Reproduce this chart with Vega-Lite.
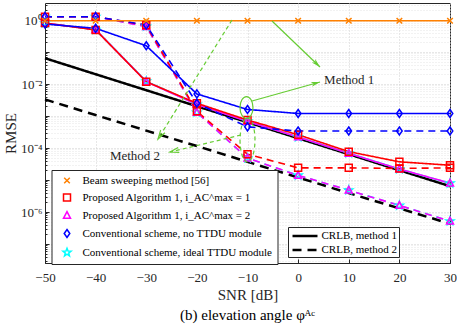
{
  "$schema": "https://vega.github.io/schema/vega-lite/v6.json",
  "width": 405,
  "height": 260,
  "autosize": "none",
  "padding": {"left": 45, "top": 3, "right": 7, "bottom": 63},
  "background": "white",
  "config": {
    "font": "Liberation Serif",
    "view": {"stroke": "#262626", "strokeWidth": 1}
  },
  "title": {
    "text": "(b) elevation angle φᴬᶜ",
    "orient": "bottom",
    "anchor": "middle",
    "fontSize": 15,
    "fontWeight": "normal",
    "font": "Liberation Serif",
    "color": "#000000",
    "offset": 6
  },
  "datasets": {
    "series": [
      {"snr": -50, "rmse": 0.8, "scheme": "S4", "method": "1"},
      {"snr": -40, "rmse": 0.5, "scheme": "S4", "method": "1"},
      {"snr": -30, "rmse": 0.0122, "scheme": "S4", "method": "1"},
      {"snr": -20, "rmse": 0.0023, "scheme": "S4", "method": "1"},
      {"snr": -10, "rmse": 0.00069, "scheme": "S4", "method": "1"},
      {"snr": 0, "rmse": 0.00022, "scheme": "S4", "method": "1"},
      {"snr": 10, "rmse": 0.000069, "scheme": "S4", "method": "1"},
      {"snr": 20, "rmse": 0.000022, "scheme": "S4", "method": "1"},
      {"snr": 30, "rmse": 0.0000079, "scheme": "S4", "method": "1"},
      {"snr": -50, "rmse": 1.27, "scheme": "S4", "method": "2"},
      {"snr": -40, "rmse": 1.27, "scheme": "S4", "method": "2"},
      {"snr": -30, "rmse": 0.63, "scheme": "S4", "method": "2"},
      {"snr": -20, "rmse": 0.0013, "scheme": "S4", "method": "2"},
      {"snr": -10, "rmse": 0.000048, "scheme": "S4", "method": "2"},
      {"snr": 0, "rmse": 0.000014, "scheme": "S4", "method": "2"},
      {"snr": 10, "rmse": 0.0000048, "scheme": "S4", "method": "2"},
      {"snr": 20, "rmse": 0.0000016, "scheme": "S4", "method": "2"},
      {"snr": 30, "rmse": 0.00000052, "scheme": "S4", "method": "2"},
      {"snr": -50, "rmse": 0.8, "scheme": "S2", "method": "1"},
      {"snr": -40, "rmse": 0.5, "scheme": "S2", "method": "1"},
      {"snr": -30, "rmse": 0.0118, "scheme": "S2", "method": "1"},
      {"snr": -20, "rmse": 0.0023, "scheme": "S2", "method": "1"},
      {"snr": -10, "rmse": 0.00068, "scheme": "S2", "method": "1"},
      {"snr": 0, "rmse": 0.00022, "scheme": "S2", "method": "1"},
      {"snr": 10, "rmse": 0.000068, "scheme": "S2", "method": "1"},
      {"snr": 20, "rmse": 0.000022, "scheme": "S2", "method": "1"},
      {"snr": 30, "rmse": 0.000008, "scheme": "S2", "method": "1"},
      {"snr": -50, "rmse": 1.27, "scheme": "S2", "method": "2"},
      {"snr": -40, "rmse": 1.27, "scheme": "S2", "method": "2"},
      {"snr": -30, "rmse": 0.62, "scheme": "S2", "method": "2"},
      {"snr": -20, "rmse": 0.0013, "scheme": "S2", "method": "2"},
      {"snr": -10, "rmse": 0.000048, "scheme": "S2", "method": "2"},
      {"snr": 0, "rmse": 0.000014, "scheme": "S2", "method": "2"},
      {"snr": 10, "rmse": 0.0000048, "scheme": "S2", "method": "2"},
      {"snr": 20, "rmse": 0.0000016, "scheme": "S2", "method": "2"},
      {"snr": 30, "rmse": 0.00000052, "scheme": "S2", "method": "2"},
      {"snr": -50, "rmse": 0.8, "scheme": "S1", "method": "1"},
      {"snr": -40, "rmse": 0.49, "scheme": "S1", "method": "1"},
      {"snr": -30, "rmse": 0.0118, "scheme": "S1", "method": "1"},
      {"snr": -20, "rmse": 0.0025, "scheme": "S1", "method": "1"},
      {"snr": -10, "rmse": 0.00075, "scheme": "S1", "method": "1"},
      {"snr": 0, "rmse": 0.00026, "scheme": "S1", "method": "1"},
      {"snr": 10, "rmse": 0.000077, "scheme": "S1", "method": "1"},
      {"snr": 20, "rmse": 0.000037, "scheme": "S1", "method": "1"},
      {"snr": 30, "rmse": 0.000029, "scheme": "S1", "method": "1"},
      {"snr": -50, "rmse": 1.27, "scheme": "S1", "method": "2"},
      {"snr": -40, "rmse": 1.27, "scheme": "S1", "method": "2"},
      {"snr": -30, "rmse": 0.68, "scheme": "S1", "method": "2"},
      {"snr": -20, "rmse": 0.0014, "scheme": "S1", "method": "2"},
      {"snr": -10, "rmse": 0.000064, "scheme": "S1", "method": "2"},
      {"snr": 0, "rmse": 0.000024, "scheme": "S1", "method": "2"},
      {"snr": 10, "rmse": 0.000024, "scheme": "S1", "method": "2"},
      {"snr": 20, "rmse": 0.000023, "scheme": "S1", "method": "2"},
      {"snr": 30, "rmse": 0.000024, "scheme": "S1", "method": "2"},
      {"snr": -50, "rmse": 0.75, "scheme": "S3", "method": "1"},
      {"snr": -40, "rmse": 0.55, "scheme": "S3", "method": "1"},
      {"snr": -30, "rmse": 0.157, "scheme": "S3", "method": "1"},
      {"snr": -20, "rmse": 0.0049, "scheme": "S3", "method": "1"},
      {"snr": -10, "rmse": 0.0016, "scheme": "S3", "method": "1"},
      {"snr": 0, "rmse": 0.0012, "scheme": "S3", "method": "1"},
      {"snr": 10, "rmse": 0.0012, "scheme": "S3", "method": "1"},
      {"snr": 20, "rmse": 0.0012, "scheme": "S3", "method": "1"},
      {"snr": 30, "rmse": 0.0012, "scheme": "S3", "method": "1"},
      {"snr": -50, "rmse": 1.27, "scheme": "S3", "method": "2"},
      {"snr": -40, "rmse": 1.27, "scheme": "S3", "method": "2"},
      {"snr": -30, "rmse": 0.7, "scheme": "S3", "method": "2"},
      {"snr": -20, "rmse": 0.0025, "scheme": "S3", "method": "2"},
      {"snr": -10, "rmse": 0.00046, "scheme": "S3", "method": "2"},
      {"snr": 0, "rmse": 0.00034, "scheme": "S3", "method": "2"},
      {"snr": 10, "rmse": 0.00034, "scheme": "S3", "method": "2"},
      {"snr": 20, "rmse": 0.00034, "scheme": "S3", "method": "2"},
      {"snr": 30, "rmse": 0.00034, "scheme": "S3", "method": "2"},
      {"snr": -50, "rmse": 0.95, "scheme": "S0", "method": "1"},
      {"snr": -40, "rmse": 0.95, "scheme": "S0", "method": "1"},
      {"snr": -30, "rmse": 0.95, "scheme": "S0", "method": "1"},
      {"snr": -20, "rmse": 0.95, "scheme": "S0", "method": "1"},
      {"snr": -10, "rmse": 0.95, "scheme": "S0", "method": "1"},
      {"snr": 0, "rmse": 0.95, "scheme": "S0", "method": "1"},
      {"snr": 10, "rmse": 0.95, "scheme": "S0", "method": "1"},
      {"snr": 20, "rmse": 0.95, "scheme": "S0", "method": "1"},
      {"snr": 30, "rmse": 0.95, "scheme": "S0", "method": "1"}
    ],
    "crlb": [
      {"snr": -50, "rmse": 0.064, "curve": "CRLB, method 1"},
      {"snr": -40, "rmse": 0.0202, "curve": "CRLB, method 1"},
      {"snr": -30, "rmse": 0.0064, "curve": "CRLB, method 1"},
      {"snr": -20, "rmse": 0.00202, "curve": "CRLB, method 1"},
      {"snr": -10, "rmse": 0.00064, "curve": "CRLB, method 1"},
      {"snr": 0, "rmse": 0.000202, "curve": "CRLB, method 1"},
      {"snr": 10, "rmse": 0.000064, "curve": "CRLB, method 1"},
      {"snr": 20, "rmse": 0.0000202, "curve": "CRLB, method 1"},
      {"snr": 30, "rmse": 0.0000064, "curve": "CRLB, method 1"},
      {"snr": -50, "rmse": 0.0033, "curve": "CRLB, method 2"},
      {"snr": -40, "rmse": 0.00107, "curve": "CRLB, method 2"},
      {"snr": -30, "rmse": 0.00035, "curve": "CRLB, method 2"},
      {"snr": -20, "rmse": 0.000115, "curve": "CRLB, method 2"},
      {"snr": -10, "rmse": 0.000037, "curve": "CRLB, method 2"},
      {"snr": 0, "rmse": 0.000012, "curve": "CRLB, method 2"},
      {"snr": 10, "rmse": 0.0000039, "curve": "CRLB, method 2"},
      {"snr": 20, "rmse": 0.0000013, "curve": "CRLB, method 2"},
      {"snr": 30, "rmse": 0.00000043, "curve": "CRLB, method 2"}
    ],
    "arrows": [
      {"id": "m1a", "snr": -5.16, "rmse": 0.93, "snr2": 4.32, "rmse2": 0.034},
      {"id": "m1b", "snr": -9.11, "rmse": 0.00294, "snr2": 4.32, "rmse2": 0.01155},
      {"id": "m2a", "snr": -13.06, "rmse": 1.0, "snr2": -27.68, "rmse2": 0.000191},
      {"id": "m2b", "snr": -11.28, "rmse": 0.000255, "snr2": -25.31, "rmse2": 0.000075}
    ],
    "heads": [
      {"id": "m1a", "snr": 4.32, "rmse": 0.034},
      {"id": "m1b", "snr": 4.32, "rmse": 0.01155},
      {"id": "m2a", "snr": -27.68, "rmse": 0.000191},
      {"id": "m2b", "snr": -25.31, "rmse": 0.000075}
    ],
    "ellipses": [
      {"kind": "m1", "snr": -10.2, "rmse": 0.00184},
      {"kind": "m2", "snr": -10.0, "rmse": 0.000178}
    ],
    "notes": [
      {"snr": 10.09, "rmse": 0.0133, "label": "Method 1"},
      {"snr": -32.22, "rmse": 0.0000562, "label": "Method 2"}
    ]
  },
  "encoding": {
    "x": {
      "field": "snr",
      "type": "quantitative",
      "scale": {"domain": [-50, 30], "nice": false, "zero": false},
      "axis": {
        "title": "SNR [dB]",
        "values": [-50, -40, -30, -20, -10, 0, 10, 20, 30],
        "titleFontSize": 15,
        "titleFontWeight": "normal",
        "titleFont": "Liberation Serif",
        "titleColor": "#262626",
        "titlePadding": 3,
        "labelFont": "Liberation Serif",
        "labelFontSize": 13,
        "labelColor": "#262626",
        "labelPadding": 12,
        "labelFlush": false,
        "tickSize": -4,
        "tickColor": "#262626",
        "domainColor": "#262626",
        "grid": true,
        "gridColor": "#cfcfcf",
        "gridDash": [1, 2]
      }
    },
    "y": {
      "field": "rmse",
      "type": "quantitative",
      "scale": {"type": "log", "domain": [2.55e-8, 3.4], "nice": false},
      "axis": {
        "title": "RMSE",
        "values": [3e-8, 4e-8, 5e-8, 6e-8, 7e-8, 8e-8, 9e-8,
                   1e-7, 2e-7, 3e-7, 4e-7, 5e-7, 6e-7, 7e-7, 8e-7, 9e-7,
                   0.000001, 2e-6, 3e-6, 4e-6, 5e-6, 6e-6, 7e-6, 8e-6, 9e-6,
                   1e-5, 2e-5, 3e-5, 4e-5, 5e-5, 6e-5, 7e-5, 8e-5, 9e-5,
                   0.0001, 0.0002, 0.0003, 0.0004, 0.0005, 0.0006, 0.0007, 0.0008, 0.0009,
                   0.001, 0.002, 0.003, 0.004, 0.005, 0.006, 0.007, 0.008, 0.009,
                   0.01, 0.02, 0.03, 0.04, 0.05, 0.06, 0.07, 0.08, 0.09,
                   0.1, 0.2, 0.3, 0.4, 0.5, 0.6, 0.7, 0.8, 0.9,
                   1, 2, 3],
        "labelExpr": "datum.value == 1 ? '10⁰' : datum.value == 0.01 ? '10⁻²' : datum.value == 0.0001 ? '10⁻⁴' : datum.value == 0.000001 ? '10⁻⁶' : ''",
        "labelOverlap": false,
        "titleFontSize": 15,
        "titleFontWeight": "normal",
        "titleFont": "Liberation Serif",
        "titleColor": "#262626",
        "titlePadding": 2,
        "labelFont": "Liberation Serif",
        "labelFontSize": 13,
        "labelColor": "#262626",
        "labelPadding": 7,
        "tickSize": {"condition": {"test": "indexof([1e-7,0.000001,0.00001,0.0001,0.001,0.01,0.1,1], datum.value) >= 0", "value": -4}, "value": -2},
        "tickColor": "#262626",
        "domainColor": "#262626",
        "grid": true,
        "gridColor": {"condition": {"test": "indexof([1e-7,0.000001,0.00001,0.0001,0.001,0.01,0.1,1], datum.value) >= 0", "value": "#cfcfcf"}, "value": "#e4e4e4"},
        "gridDash": [1, 2]
      }
    }
  },
  "layer": [
    {
      "data": {"name": "crlb"},
      "mark": {"type": "line", "color": "black", "strokeWidth": 2.5},
      "encoding": {
        "strokeDash": {
          "field": "curve",
          "type": "nominal",
          "scale": {"domain": ["CRLB, method 1", "CRLB, method 2"], "range": [[1, 0], [9, 6]]},
          "legend": {
            "title": null,
            "orient": "none",
            "legendX": 243,
            "legendY": 224,
            "strokeColor": "#262626",
            "fillColor": "white",
            "padding": 1.5,
            "symbolType": "M-2,0L2,0",
            "symbolStrokeColor": "black",
            "symbolStrokeWidth": 2.5,
            "symbolSize": 156,
            "symbolOffset": 8,
            "labelFont": "Liberation Serif",
            "labelFontSize": 11,
            "labelColor": "black",
            "rowPadding": 1,
            "labelOffset": 9
          }
        }
      }
    },
    {
      "data": {"name": "series"},
      "mark": {"type": "line", "strokeWidth": 1.6},
      "encoding": {
        "color": {
          "field": "scheme",
          "type": "nominal",
          "scale": {"domain": ["S0", "S1", "S2", "S3", "S4"], "range": ["#ff8000", "#ff0000", "#ff00ff", "#0000ff", "#00ffff"]},
          "legend": null
        },
        "strokeDash": {
          "field": "method",
          "type": "nominal",
          "scale": {"domain": ["1", "2"], "range": [[1, 0], [7, 5]]},
          "legend": null
        }
      }
    },
    {
      "data": {"name": "series"},
      "mark": {"type": "point", "filled": false, "size": 49, "strokeWidth": 1.5, "opacity": 1},
      "encoding": {
        "color": {
          "field": "scheme",
          "type": "nominal",
          "scale": {"domain": ["S0", "S1", "S2", "S3", "S4"], "range": ["#ff8000", "#ff0000", "#ff00ff", "#0000ff", "#00ffff"]},
          "legend": {
            "title": null,
            "orient": "none",
            "legendX": 6.5,
            "legendY": 167,
            "strokeColor": "#262626",
            "fillColor": "white",
            "padding": 5,
            "labelFont": "Liberation Serif",
            "labelFontSize": 11,
            "labelColor": "black",
            "labelLimit": 400,
            "labelExpr": "datum.value == 'S0' ? 'Beam sweeping method [56]' : datum.value == 'S1' ? 'Proposed Algorithm 1, i_AC^max = 1' : datum.value == 'S2' ? 'Proposed Algorithm 1, i_AC^max = 2' : datum.value == 'S3' ? 'Conventional scheme, no TTDU module' : 'Conventional scheme, ideal TTDU module'",
            "symbolSize": 49,
            "symbolStrokeWidth": 1.5,
            "symbolOffset": 5,
            "labelOffset": 10,
            "rowPadding": 4
          }
        },
        "shape": {
          "field": "scheme",
          "type": "nominal",
          "scale": {
            "domain": ["S0", "S1", "S2", "S3", "S4"],
            "range": [
              "M-0.8,-0.8L0.8,0.8M0.8,-0.8L-0.8,0.8",
              "M-1,-1L1,-1L1,1L-1,1Z",
              "M0,-1.1L1,0.8L-1,0.8Z",
              "M0,-1.15L0.8,0L0,1.15L-0.8,0Z",
              "M0,-1.2L0.294,-0.405L1.141,-0.371L0.476,0.155L0.705,0.971L0,0.5L-0.705,0.971L-0.476,0.155L-1.141,-0.371L-0.294,-0.405Z"
            ]
          }
        }
      }
    },
    {
      "data": {"name": "ellipses"},
      "transform": [{"filter": "datum.kind == 'm1'"}],
      "mark": {"type": "point", "shape": "M0,-1A0.59,1 0 1,1 0,1A0.59,1 0 1,1 0,-1Z", "size": 484, "filled": false, "stroke": "#66cc33", "strokeWidth": 1.2, "opacity": 1}
    },
    {
      "data": {"name": "ellipses"},
      "transform": [{"filter": "datum.kind == 'm2'"}],
      "mark": {"type": "point", "shape": "M0,-1A0.34,1 0 1,1 0,1A0.34,1 0 1,1 0,-1Z", "size": 1936, "filled": false, "stroke": "#66cc33", "strokeWidth": 1.2, "strokeDash": [4, 3], "opacity": 1}
    },
    {
      "data": {"name": "arrows"},
      "transform": [{"filter": "datum.id == 'm1a' || datum.id == 'm1b'"}],
      "mark": {"type": "rule", "color": "#66cc33", "strokeWidth": 1.2},
      "encoding": {"x2": {"field": "snr2"}, "y2": {"field": "rmse2"}}
    },
    {
      "data": {"name": "arrows"},
      "transform": [{"filter": "datum.id == 'm2a' || datum.id == 'm2b'"}],
      "mark": {"type": "rule", "color": "#66cc33", "strokeWidth": 1.2, "strokeDash": [4, 3]},
      "encoding": {"x2": {"field": "snr2"}, "y2": {"field": "rmse2"}}
    },
    {
      "data": {"name": "heads"},
      "transform": [{"filter": "datum.id == 'm1a'"}],
      "mark": {"type": "point", "shape": "M0,0L-0.5,1.8L0,1.3L0.5,1.8Z", "size": 100, "filled": true, "fill": "#66cc33", "strokeWidth": 0, "angle": 133.8, "opacity": 1}
    },
    {
      "data": {"name": "heads"},
      "transform": [{"filter": "datum.id == 'm1b'"}],
      "mark": {"type": "point", "shape": "M0,0L-0.5,1.8L0,1.3L0.5,1.8Z", "size": 100, "filled": true, "fill": "#66cc33", "strokeWidth": 0, "angle": 74.4, "opacity": 1}
    },
    {
      "data": {"name": "heads"},
      "transform": [{"filter": "datum.id == 'm2a'"}],
      "mark": {"type": "point", "shape": "M-0.5,1.8L0,0L0.5,1.8", "size": 100, "filled": false, "stroke": "#66cc33", "strokeWidth": 1.2, "angle": -148.1, "opacity": 1}
    },
    {
      "data": {"name": "heads"},
      "transform": [{"filter": "datum.id == 'm2b'"}],
      "mark": {"type": "point", "shape": "M-0.5,1.8L0,0L0.5,1.8", "size": 100, "filled": false, "stroke": "#66cc33", "strokeWidth": 1.2, "angle": -103.5, "opacity": 1}
    },
    {
      "data": {"name": "notes"},
      "mark": {"type": "text", "font": "Liberation Serif", "fontSize": 13, "color": "#262626", "align": "center", "baseline": "middle"},
      "encoding": {"text": {"field": "label"}}
    }
  ],
  "resolve": {
    "scale": {"strokeDash": "independent"},
    "legend": {"color": "independent", "shape": "independent", "strokeDash": "independent"}
  }
}
